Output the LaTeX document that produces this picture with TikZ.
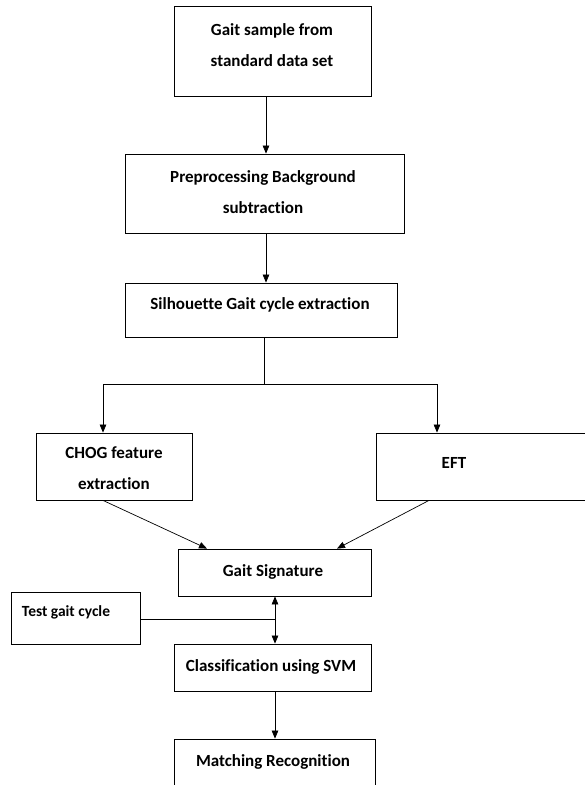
\documentclass[tikz,border=0pt]{standalone}
\usepackage{fontspec}
\setmainfont{Carlito}[Ligatures=NoCommon]
\usetikzlibrary{arrows.meta}
\begin{document}
\begin{tikzpicture}[x=1pt,y=-1pt,
  box/.style={draw,line width=0.8pt,rectangle,inner sep=0pt},
  lbl/.style={font=\bfseries\fontsize{17}{31}\selectfont,align=center,inner sep=0pt},
  small/.style={font=\bfseries\fontsize{15.5}{18}\selectfont,inner sep=0pt},
  line/.style={line width=0.7pt},
  arr/.style={line width=0.7pt,-{Triangle[length=8pt,width=6.5pt]}}]
\clip (0,0) rectangle (585,785);
\fill[white] (0,0) rectangle (585,785);

% boxes (corner to corner)
\node[box,minimum width=197pt,minimum height=90pt] (b1) at (272.5,51) {};
\node[box,minimum width=279pt,minimum height=79pt] (b2) at (264.5,193.5) {};
\node[box,minimum width=272pt,minimum height=54pt] (b3) at (261,310) {};
\node[box,minimum width=156pt,minimum height=67pt] (chog) at (114,466.5) {};
\node[box,minimum width=220pt,minimum height=67pt] (eft) at (486,466.5) {};
\node[box,minimum width=193pt,minimum height=47pt] (sig) at (274.5,572.5) {};
\node[box,minimum width=129pt,minimum height=52pt] (test) at (75.5,618) {};
\node[box,minimum width=197pt,minimum height=47pt] (svm) at (272.5,667.5) {};
\node[box,minimum width=201pt,minimum height=60pt] (match) at (274.5,769) {};

% texts
\node[lbl] at (272,45) {Gait sample from\\standard data set};
\node[lbl] at (263,192) {Preprocessing Background\\subtraction};
\node[lbl] at (260,305) {Silhouette Gait cycle extraction};
\node[lbl] at (114,468) {CHOG feature\\extraction};
\node[lbl] at (454,463) {EFT};
\node[lbl] at (273,572) {Gait Signature};
\node[small] at (66,612) {Test gait cycle};
\node[lbl] at (271,667) {Classification using SVM};
\node[lbl] at (273,762) {Matching Recognition};

% connectors
\draw[arr] (266,0 |- b1.south) -- (266,0 |- b2.north);
\draw[arr] (266,0 |- b2.south) -- (266,0 |- b3.north);
\coordinate (split) at (264,384);
\draw[line] (264,0 |- b3.south) -- (split);
\draw[arr] (split) -| (103,0 |- chog.north);
\draw[arr] (split) -| (437,0 |- eft.north);
\draw[arr] (103,0 |- chog.south) -- (207,0 |- sig.north);
\draw[arr] (429,0 |- eft.south) -- (337,0 |- sig.north);
\coordinate (join) at (275,619);
\draw[line] (test.east |- join) -- (join);
\draw[arr] (join) -- (275,0 |- sig.south);
\draw[arr] (join) -- (275,0 |- svm.north);
\draw[arr] (275,0 |- svm.south) -- (275,0 |- match.north);
\end{tikzpicture}
\end{document}
